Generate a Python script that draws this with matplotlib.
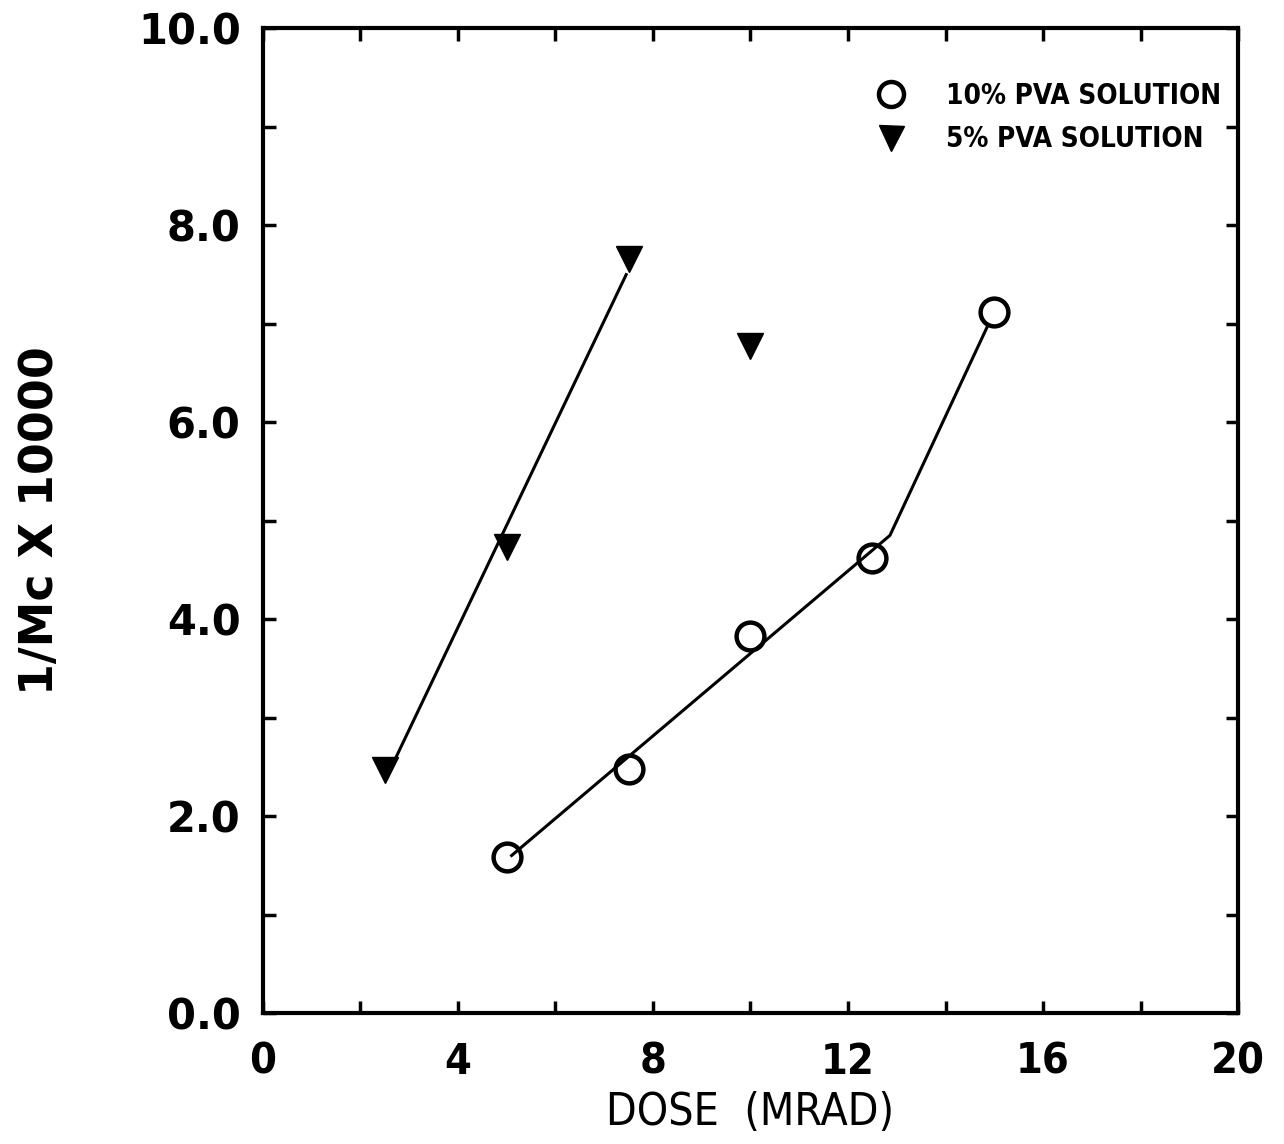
import numpy as np
import matplotlib
matplotlib.use("Agg")
import matplotlib.pyplot as plt
from matplotlib.ticker import MultipleLocator, FormatStrFormatter

# Data
dose_10 = [5.0, 7.5, 10.0, 12.5, 15.0]
inv_mc_10 = [1.58, 2.48, 3.83, 4.62, 7.12]
dose_5 = [2.5, 5.0, 7.5, 10.0]
inv_mc_5 = [2.47, 4.73, 7.66, 6.77]
x_ticks = [0, 4, 8, 12, 16, 20]
y_ticks = [0, 2, 4, 6, 8, 10]
label_10 = "10% PVA SOLUTION"
label_5 = "5% PVA SOLUTION"

fig = plt.figure(figsize=(12.84, 11.44), dpi=100)
ax = fig.add_axes([0.2048, 0.1145, 0.7594, 0.861])

# Fitted lines
# 5%: linear fit over first three points
p5 = np.polyfit(dose_5[:3], inv_mc_5[:3], 1)
xa = np.array([2.65, 7.45])
ax.plot(xa, np.polyval(p5, xa), color="black", lw=2.2, zorder=2)

# 10%: linear fit over first four points, then segment up to last point
p10 = np.polyfit(dose_10[:4], inv_mc_10[:4], 1)
x_break = 12.86
xb = np.array([5.1, x_break])
yb = np.polyval(p10, xb)
slope2 = (inv_mc_10[4] - yb[1]) / (dose_10[4] - x_break)
x_end = 14.85
xs = [xb[0], x_break, x_end]
ys = [yb[0], yb[1], yb[1] + slope2 * (x_end - x_break)]
ax.plot(xs, ys, color="black", lw=2.2, zorder=2)

ax.plot(dose_10, inv_mc_10, linestyle="none", marker="o", ms=20, mfc="none",
        mec="black", mew=3.2, label=label_10, zorder=3)
ax.plot(dose_5, inv_mc_5, linestyle="none", marker="v", ms=19, mfc="black",
        mec="black", label=label_5, zorder=3)

ax.set_xlim(0, 20)
ax.set_ylim(0, 10)
ax.xaxis.set_major_locator(plt.FixedLocator(x_ticks))
ax.xaxis.set_minor_locator(MultipleLocator(2))
ax.yaxis.set_major_locator(plt.FixedLocator(y_ticks))
ax.yaxis.set_minor_locator(MultipleLocator(1))
ax.yaxis.set_major_formatter(FormatStrFormatter("%.1f"))
ax.xaxis.set_major_formatter(FormatStrFormatter("%d"))

for which in ("major", "minor"):
    ax.tick_params(axis="both", which=which, direction="in", length=9, width=2.5,
                   top=True, right=True)
ax.tick_params(axis="x", which="major", pad=20)
ax.tick_params(axis="y", which="major", pad=16)

for lab in ax.get_yticklabels():
    lab.set_fontsize(30)
    lab.set_fontweight("bold")
    lab.set_family("DejaVu Sans")
for lab in ax.get_xticklabels():
    lab.set_fontsize(31)
    lab.set_fontweight("bold")
    lab.set_family("DejaVu Sans")
    lab.set_fontstretch("condensed")

for s in ax.spines.values():
    s.set_linewidth(3)

ax.set_xlabel("DOSE  (MRAD)", fontsize=32, fontstretch="condensed", labelpad=6)
ax.set_ylabel("1/Mc X 10000", fontsize=33, fontweight="bold", labelpad=54)

leg = ax.legend(loc="upper right", bbox_to_anchor=(1.0, 0.962), frameon=False,
                handlelength=1.0, handletextpad=1.5,
                labelspacing=0.55, borderaxespad=0.2,
                prop={"size": 20, "weight": "bold", "stretch": "condensed"})
for h in leg.legend_handles:
    h.set_markersize(18)

fig.savefig("out.png", dpi=100)
